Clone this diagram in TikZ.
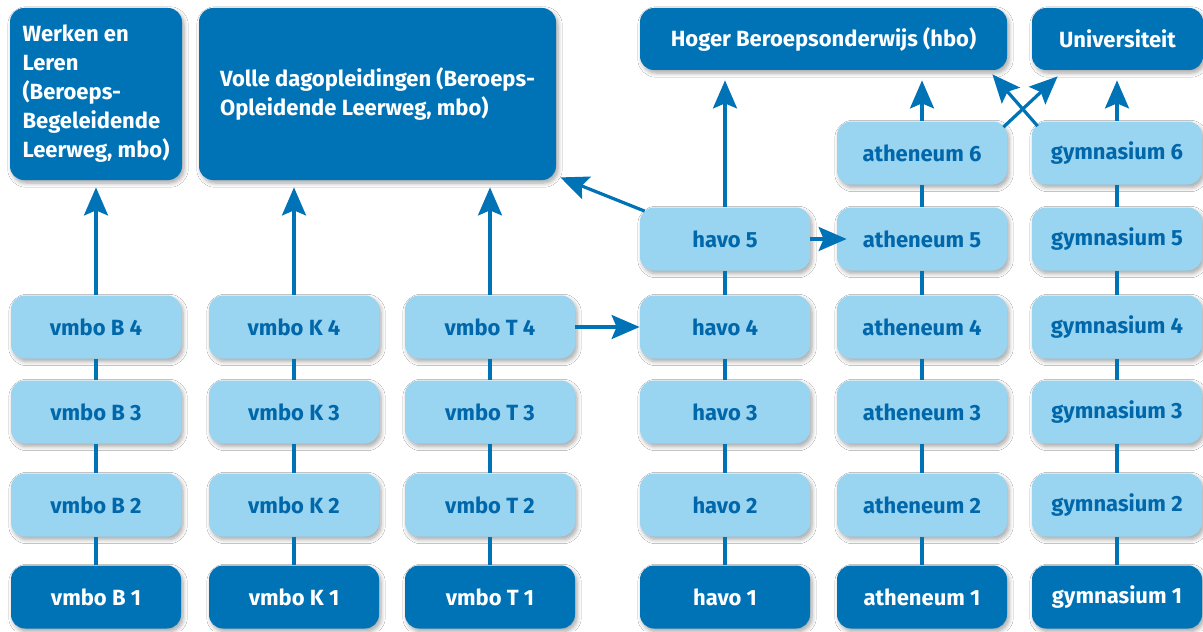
\documentclass[tikz,border=0pt]{standalone}
\usepackage{fontspec}
\setmainfont{Fira Sans}
\usetikzlibrary{arrows.meta,shadows,shadows.blur}
\definecolor{dk}{RGB}{0,115,183}
\definecolor{lt}{RGB}{153,212,240}
\definecolor{tx}{RGB}{0,103,170}
\begin{document}
\begin{tikzpicture}[x=0.5pt,y=-0.5pt,
  box/.style={rounded corners=7pt, minimum width=85pt, minimum height=31.5pt, inner sep=0pt,
    font=\bfseries\fontsize{11}{14.5}\selectfont,
    blur shadow={shadow blur steps=6, shadow xshift=1pt, shadow yshift=-1.5pt, shadow opacity=35}},
  lbox/.style={box, fill=lt, text=tx},
  dbox/.style={box, fill=dk, text=white},
  link/.style={dk, line width=1.6pt},
  arr/.style={link, -{Stealth[length=14pt,width=12pt,inset=2.5pt]}}]
\useasboundingbox[fill=white] (0,0) rectangle (1203,631);

% top destinations
\node[dbox, minimum width=86pt, minimum height=86pt, align=left] (wl) at (96,94)
  {Werken en\\Leren\\(Beroeps-\\Begeleidende\\Leerweg, mbo)};
\node[dbox, minimum width=178.5pt, minimum height=86pt, align=left] (vd) at (377.5,94)
  {Volle dagopleidingen (Beroeps-\\Opleidende Leerweg, mbo)};
\node[dbox, minimum width=183.5pt, minimum height=31pt] (hbo) at (823.5,39) {Hoger Beroepsonderwijs (hbo)};
\node[dbox, minimum width=85.5pt, minimum height=31pt] (uni) at (1117.5,39) {Universiteit};

% vmbo columns
\foreach \c/\x in {B/96,K/294,T/490}{
  \node[dbox] (\c1) at (\x,597) {vmbo \c\ 1};
  \node[lbox] (\c2) at (\x,505) {vmbo \c\ 2};
  \node[lbox] (\c3) at (\x,412) {vmbo \c\ 3};
  \node[lbox] (\c4) at (\x,327) {vmbo \c\ 4};
  \draw[link] (\c1.north) -- (\c2.south);
  \draw[link] (\c2.north) -- (\c3.south);
  \draw[link] (\c3.north) -- (\c4.south);
}

% havo
\node[dbox] (H1) at (725,597) {havo 1};
\node[lbox] (H2) at (725,505) {havo 2};
\node[lbox] (H3) at (725,412) {havo 3};
\node[lbox] (H4) at (725,327) {havo 4};
\node[lbox] (H5) at (725,239) {havo 5};
\draw[link] (H1.north) -- (H2.south);
\draw[link] (H2.north) -- (H3.south);
\draw[link] (H3.north) -- (H4.south);
\draw[link] (H4.north) -- (H5.south);

% atheneum and gymnasium
\foreach \c/\x/\w in {A/922/atheneum,G/1117/gymnasium}{
  \node[dbox] (\c1) at (\x,597) {\w\ 1};
  \node[lbox] (\c2) at (\x,505) {\w\ 2};
  \node[lbox] (\c3) at (\x,412) {\w\ 3};
  \node[lbox] (\c4) at (\x,327) {\w\ 4};
  \node[lbox] (\c5) at (\x,239) {\w\ 5};
  \node[lbox] (\c6) at (\x,153) {\w\ 6};
  \draw[link] (\c1.north) -- (\c2.south);
  \draw[link] (\c2.north) -- (\c3.south);
  \draw[link] (\c3.north) -- (\c4.south);
  \draw[link] (\c4.north) -- (\c5.south);
  \draw[link] (\c5.north) -- (\c6.south);
}

% arrows
\draw[arr, shorten >=3.5pt] (B4.north) -- (B4.north |- wl.south);
\draw[arr, shorten >=3.5pt] (K4.north) -- (K4.north |- vd.south);
\draw[arr, shorten >=3.5pt] (T4.north) -- (T4.north |- vd.south);
\draw[arr, shorten >=5pt] (H5.north) -- (H5.north |- hbo.south);
\draw[arr, shorten >=5pt] (A6.north) -- (A6.north |- hbo.south);
\draw[arr, shorten >=5pt] (G6.north) -- (G6.north |- uni.south);
\draw[arr] ([shift={(-4,6)}]A6.north east) -- ([shift={(26,6)}]uni.south west);
\draw[arr] ([shift={(6,5)}]G6.north west) -- ([shift={(-15,4)}]hbo.south east);
\draw[arr] ([shift={(5,4)}]H5.north west) -- ([shift={(4,-3)}]vd.south east);
\draw[arr, shorten >=-5pt] (H5.east) -- (A5.west);
\draw[arr] (T4.east) -- (H4.west);
\end{tikzpicture}
\end{document}
